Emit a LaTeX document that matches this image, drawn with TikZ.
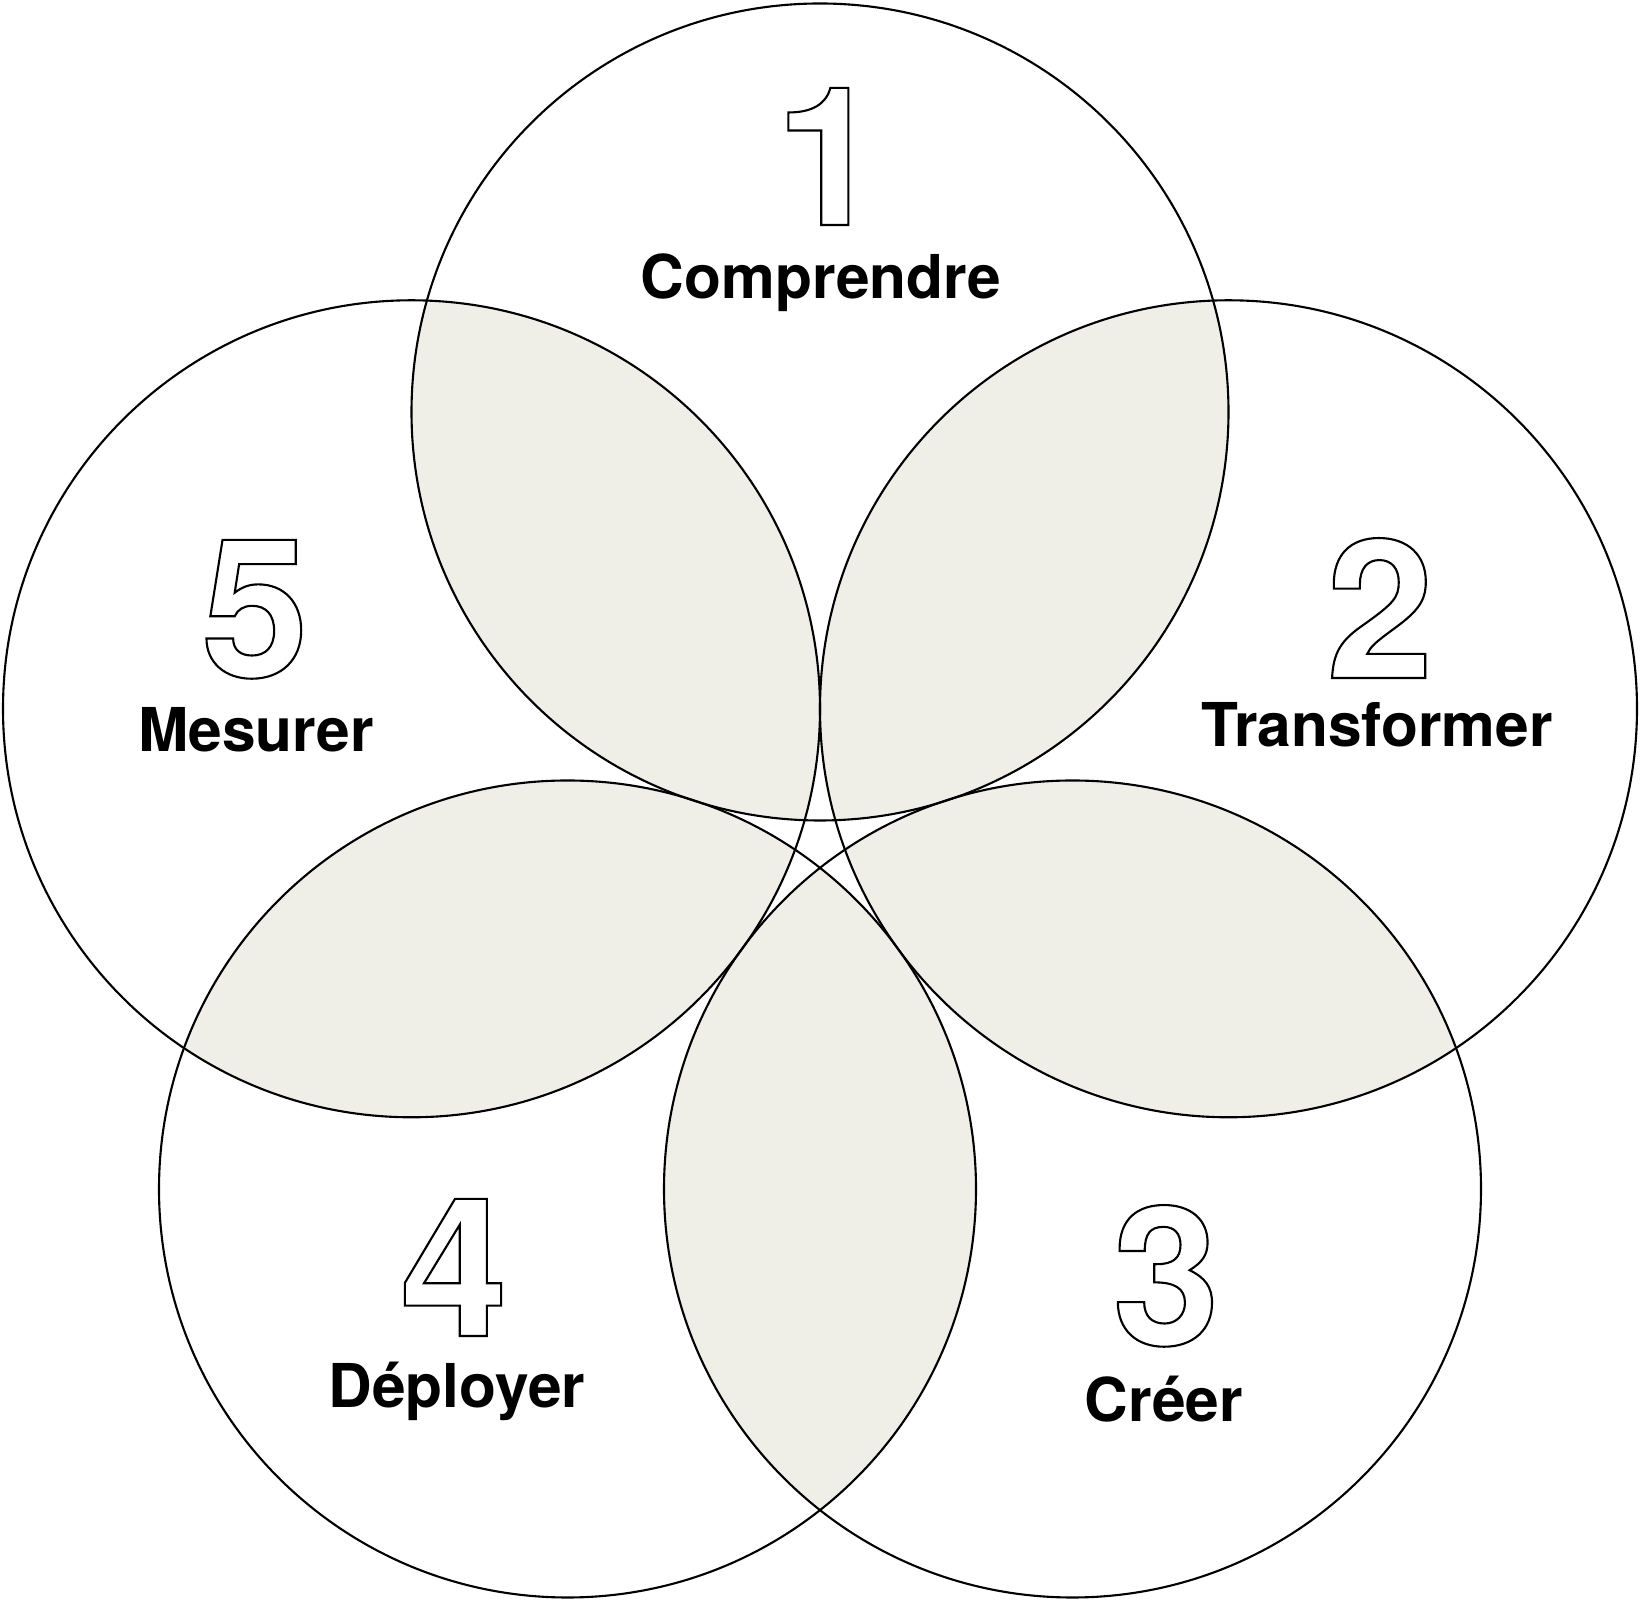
\documentclass[tikz,border=0pt]{standalone}
\usepackage{fontspec}
\setmainfont{TeX Gyre Heros}
\usepackage{tikz}
\definecolor{lensgray}{RGB}{239,239,232}
\def\circr{4.085}
\def\numnode{\node[anchor=base,inner sep=0pt,font=\fontsize{55}{55}\selectfont\bfseries]}
\def\labnode{\node[anchor=base,inner sep=0pt,font=\fontsize{17.2}{20}\selectfont\bfseries]}
\newcommand{\outl}[1]{\special{pdf:literal 1 Tr 0.6 w}#1\special{pdf:literal 0 Tr}}

\begin{document}
\begin{tikzpicture}[line width=0.6pt]
\useasboundingbox (0,0) rectangle (16.42,16.02);
\coordinate (c1) at (8.20,11.90);
\coordinate (c2) at (12.285,8.932);
\coordinate (c3) at (10.725,4.13);
\coordinate (c4) at (5.675,4.13);
\coordinate (c5) at (4.115,8.932);
% shaded lenses
\begin{scope}\clip (c1) circle (\circr); \fill[lensgray] (c2) circle (\circr); \end{scope}
\begin{scope}\clip (c2) circle (\circr); \fill[lensgray] (c3) circle (\circr); \end{scope}
\begin{scope}\clip (c3) circle (\circr); \fill[lensgray] (c4) circle (\circr); \end{scope}
\begin{scope}\clip (c4) circle (\circr); \fill[lensgray] (c5) circle (\circr); \end{scope}
\begin{scope}\clip (c5) circle (\circr); \fill[lensgray] (c1) circle (\circr); \end{scope}
% circles
\draw (c1) circle (\circr);
\draw (c2) circle (\circr);
\draw (c3) circle (\circr);
\draw (c4) circle (\circr);
\draw (c5) circle (\circr);
% numbers and labels
\numnode (one) at (8.29,13.77) {\outl{1}};
\labnode (lone) at (8.21,13.03) {Comprendre};
\numnode (two) at (13.80,9.24) {\outl{2}};
\labnode (ltwo) at (13.77,8.55) {Transformer};
\numnode (three) at (11.66,2.57) {\outl{3}};
\labnode (lthree) at (11.64,1.80) {Créer};
\numnode (four) at (4.54,2.66) {\outl{4}};
\labnode (lfour) at (4.57,1.94) {Déployer};
\numnode (five) at (2.55,9.25) {\outl{5}};
\labnode (lfive) at (2.56,8.50) {Mesurer};
\end{tikzpicture}
\end{document}
